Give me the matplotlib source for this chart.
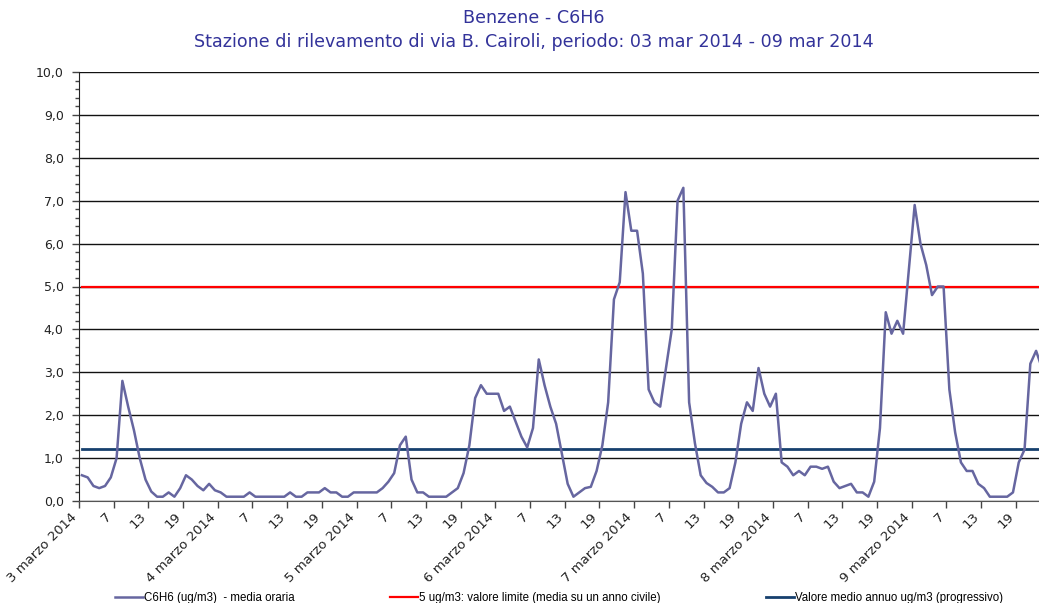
import numpy as np
import matplotlib
matplotlib.use("Agg")
import matplotlib.pyplot as plt
import matplotlib.transforms as mtransforms
from matplotlib.ticker import MultipleLocator, FuncFormatter

# hourly C6H6 values (ug/m3), 3 marzo 2014 ore 1 -> 9 marzo 2014
benzene = [
    0.6, 0.55, 0.35, 0.3, 0.35, 0.55, 1.0, 2.8, 2.2, 1.65,
    1.0, 0.5, 0.22, 0.1, 0.1, 0.2, 0.1, 0.3, 0.6, 0.5,
    0.35, 0.25, 0.4, 0.25, 0.2, 0.1, 0.1, 0.1, 0.1, 0.2,
    0.1, 0.1, 0.1, 0.1, 0.1, 0.1, 0.2, 0.1, 0.1, 0.2,
    0.2, 0.2, 0.3, 0.2, 0.2, 0.1, 0.1, 0.2, 0.2, 0.2,
    0.2, 0.2, 0.3, 0.45, 0.65, 1.3, 1.5, 0.5, 0.2, 0.2,
    0.1, 0.1, 0.1, 0.1, 0.2, 0.3, 0.65, 1.3, 2.4, 2.7,
    2.5, 2.5, 2.5, 2.1, 2.2, 1.85, 1.5, 1.25, 1.7, 3.3,
    2.7, 2.2, 1.8, 1.1, 0.4, 0.1, 0.2, 0.3, 0.33, 0.7,
    1.3, 2.3, 4.7, 5.1, 7.2, 6.3, 6.3, 5.3, 2.6, 2.3,
    2.2, 3.1, 4.0, 7.0, 7.3, 2.3, 1.35, 0.6, 0.42, 0.33,
    0.2, 0.2, 0.3, 0.9, 1.8, 2.3, 2.1, 3.1, 2.5, 2.2,
    2.5, 0.9, 0.8, 0.6, 0.7, 0.6, 0.8, 0.8, 0.75, 0.8,
    0.45, 0.3, 0.35, 0.4, 0.2, 0.2, 0.1, 0.45, 1.7, 4.4,
    3.9, 4.2, 3.9, 5.4, 6.9, 6.0, 5.5, 4.8, 5.0, 5.0,
    2.6, 1.6, 0.9, 0.7, 0.7, 0.4, 0.3, 0.1, 0.1, 0.1,
    0.1, 0.2, 0.9, 1.2, 3.2, 3.5, 3.1,
]
limit_value = 5.0
annual_mean = 1.22

days = [3, 4, 5, 6, 7, 8, 9]
hour_marks = ["7", "13", "19"]

series_labels = [
    "C6H6 (ug/m3)  - media oraria",
    "5 ug/m3: valore limite (media su un anno civile)",
    "Valore medio annuo ug/m3 (progressivo)",
]
title_1 = "Benzene - C6H6"
title_2 = "Stazione di rilevamento di via B. Cairoli, periodo: 03 mar 2014 - 09 mar 2014"

n = len(benzene)
x = np.arange(n) + 0.5

tick_labels = []
for d in days:
    tick_labels.append(f"{d} marzo 2014")
    tick_labels.extend(hour_marks)
tick_pos = np.arange(len(tick_labels)) * 6

plt.rcParams['font.family'] = ['DejaVu Sans']

fig = plt.figure(figsize=(10.39, 6.03), dpi=100)
# plot area runs off the right edge of the picture, as in the original
ax = fig.add_axes([79 / 1039, 102 / 603, 960 / 1039, 429 / 603])

ax.set_ylim(0, 10)
ax.set_xlim(0, 166)
ax.yaxis.set_major_locator(MultipleLocator(1))
ax.yaxis.set_minor_locator(MultipleLocator(0.2))
ax.yaxis.set_major_formatter(FuncFormatter(lambda v, p: f"{v:.1f}".replace(".", ",")))
ax.grid(axis='y', which='major', color='#111111', linewidth=1.0)
ax.set_axisbelow(True)

line_data, = ax.plot(x, benzene, color='#6666a0', linewidth=1.8, zorder=4)
line_lim, = ax.plot(x, np.full(n, limit_value), color='#ff0000', linewidth=1.6, zorder=3)
line_avg, = ax.plot(x, np.full(n, annual_mean), color='#16406e', linewidth=2.0, zorder=3)

ax.set_xticks(tick_pos)
ax.set_xticklabels(tick_labels, rotation=45, ha='right', va='center',
                   rotation_mode='anchor')
ax.tick_params(axis='x', length=5, width=1, color='#444444', labelsize=9.5,
               labelcolor='#222222', pad=5)
ax.tick_params(axis='y', which='major', length=5, width=1, color='#444444',
               labelsize=9, labelcolor='#222222', pad=6)
ax.tick_params(axis='y', which='minor', length=3, width=1, color='#444444')

shift = mtransforms.ScaledTranslation(-4 / 100, 0, fig.dpi_scale_trans)
for lab in ax.get_xticklabels():
    lab.set_transform(lab.get_transform() + shift)

for s in ['top', 'right']:
    ax.spines[s].set_visible(False)
ax.spines['left'].set_color('#222222')
ax.spines['bottom'].set_color('#555555')

fig.text(0.514, 1 - 18 / 603, title_1, ha='center', va='center',
         color='#33339a', fontsize=12.6)
fig.text(0.514, 1 - 42 / 603, title_2, ha='center', va='center',
         color='#33339a', fontsize=12.6)

legend_x = [115 / 1039, 390 / 1039, 766 / 1039]
for h, lab, lx in zip([line_data, line_lim, line_avg], series_labels, legend_x):
    fig.legend([h], [lab], loc='center left', bbox_to_anchor=(lx, 1 - 598 / 603),
               frameon=False, handlelength=2.4, handletextpad=0.1,
               borderpad=0, borderaxespad=0, prop={'family': 'Liberation Sans', 'size': 8.3})

fig.savefig("out.png", dpi=100)
